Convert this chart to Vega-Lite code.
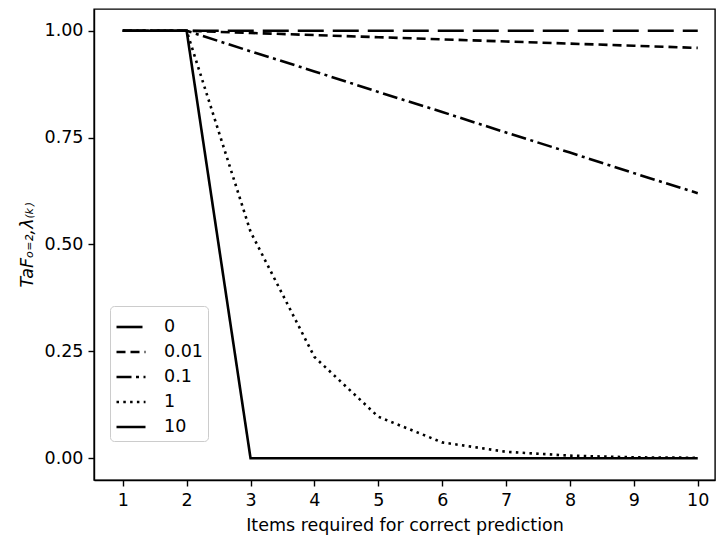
{
  "$schema": "https://vega.github.io/schema/vega-lite/v6.json",
  "width": 621,
  "height": 471,
  "padding": {"left": 94, "top": 9, "right": 1, "bottom": 55},
  "autosize": {"type": "none"},
  "background": "white",
  "config": {
    "view": {"stroke": "black", "strokeWidth": 1.4},
    "font": "DejaVu Sans",
    "axis": {
      "grid": false,
      "domainColor": "black",
      "tickColor": "black",
      "domainWidth": 1.4,
      "tickWidth": 1.4,
      "tickSize": 6,
      "labelFontSize": 17.5,
      "titleFontSize": 17.5,
      "labelColor": "black",
      "titleColor": "black",
      "labelPadding": 5,
      "titleFontWeight": "normal",
      "labelFont": "DejaVu Sans",
      "titleFont": "DejaVu Sans"
    }
  },
  "data": {
    "values": [
      {"lam": "0", "k": 1, "v": 1}, {"lam": "0", "k": 2, "v": 1}, {"lam": "0", "k": 3, "v": 1}, {"lam": "0", "k": 4, "v": 1}, {"lam": "0", "k": 5, "v": 1},
      {"lam": "0", "k": 6, "v": 1}, {"lam": "0", "k": 7, "v": 1}, {"lam": "0", "k": 8, "v": 1}, {"lam": "0", "k": 9, "v": 1}, {"lam": "0", "k": 10, "v": 1},
      {"lam": "0.01", "k": 1, "v": 1}, {"lam": "0.01", "k": 2, "v": 1}, {"lam": "0.01", "k": 3, "v": 0.995}, {"lam": "0.01", "k": 4, "v": 0.99}, {"lam": "0.01", "k": 5, "v": 0.985},
      {"lam": "0.01", "k": 6, "v": 0.98}, {"lam": "0.01", "k": 7, "v": 0.975}, {"lam": "0.01", "k": 8, "v": 0.97}, {"lam": "0.01", "k": 9, "v": 0.965}, {"lam": "0.01", "k": 10, "v": 0.96},
      {"lam": "0.1", "k": 1, "v": 1}, {"lam": "0.1", "k": 2, "v": 1}, {"lam": "0.1", "k": 3, "v": 0.952}, {"lam": "0.1", "k": 4, "v": 0.905}, {"lam": "0.1", "k": 5, "v": 0.857},
      {"lam": "0.1", "k": 6, "v": 0.81}, {"lam": "0.1", "k": 7, "v": 0.762}, {"lam": "0.1", "k": 8, "v": 0.715}, {"lam": "0.1", "k": 9, "v": 0.667}, {"lam": "0.1", "k": 10, "v": 0.62},
      {"lam": "1", "k": 1, "v": 1}, {"lam": "1", "k": 2, "v": 1}, {"lam": "1", "k": 3, "v": 0.53}, {"lam": "1", "k": 4, "v": 0.237}, {"lam": "1", "k": 5, "v": 0.097},
      {"lam": "1", "k": 6, "v": 0.037}, {"lam": "1", "k": 7, "v": 0.015}, {"lam": "1", "k": 8, "v": 0.006}, {"lam": "1", "k": 9, "v": 0.002}, {"lam": "1", "k": 10, "v": 0.001},
      {"lam": "10", "k": 1, "v": 1}, {"lam": "10", "k": 2, "v": 1}, {"lam": "10", "k": 3, "v": 0}, {"lam": "10", "k": 4, "v": 0}, {"lam": "10", "k": 5, "v": 0},
      {"lam": "10", "k": 6, "v": 0}, {"lam": "10", "k": 7, "v": 0}, {"lam": "10", "k": 8, "v": 0}, {"lam": "10", "k": 9, "v": 0}, {"lam": "10", "k": 10, "v": 0}
    ]
  },
  "mark": {"type": "line", "color": "black", "strokeWidth": 2.6, "clip": false},
  "encoding": {
    "x": {
      "field": "k",
      "type": "quantitative",
      "scale": {"domain": [0.55, 10.27], "nice": false, "zero": false},
      "axis": {"values": [1, 2, 3, 4, 5, 6, 7, 8, 9, 10], "title": "Items required for correct prediction", "titlePadding": 8}
    },
    "y": {
      "field": "v",
      "type": "quantitative",
      "scale": {"domain": [-0.051, 1.051], "nice": false, "zero": false},
      "axis": {"values": [0, 0.25, 0.5, 0.75, 1], "format": ".2f", "title": "TaFₒ₌₂,λ₍ₖ₎", "titleFontStyle": "italic", "titlePadding": 8}
    },
    "strokeDash": {
      "field": "lam",
      "type": "nominal",
      "scale": {
        "domain": ["0", "0.01", "0.1", "1", "10"],
        "range": [[26, 9], [9, 5], [15, 4.5, 3, 4.5], [2.5, 4.3], [1, 0]]
      },
      "legend": {
        "orient": "none",
        "legendX": 16,
        "legendY": 297,
        "title": null,
        "symbolType": "stroke",
        "symbolSize": 841,
        "symbolStrokeWidth": 2.6,
        "symbolStrokeColor": "black",
        "labelFontSize": 17.5,
        "labelColor": "black",
        "labelOffset": 17,
        "rowPadding": 0,
        "padding": 5,
        "strokeColor": "#cccccc",
        "fillColor": "rgba(255,255,255,0.8)",
        "cornerRadius": 4
      }
    }
  }
}
